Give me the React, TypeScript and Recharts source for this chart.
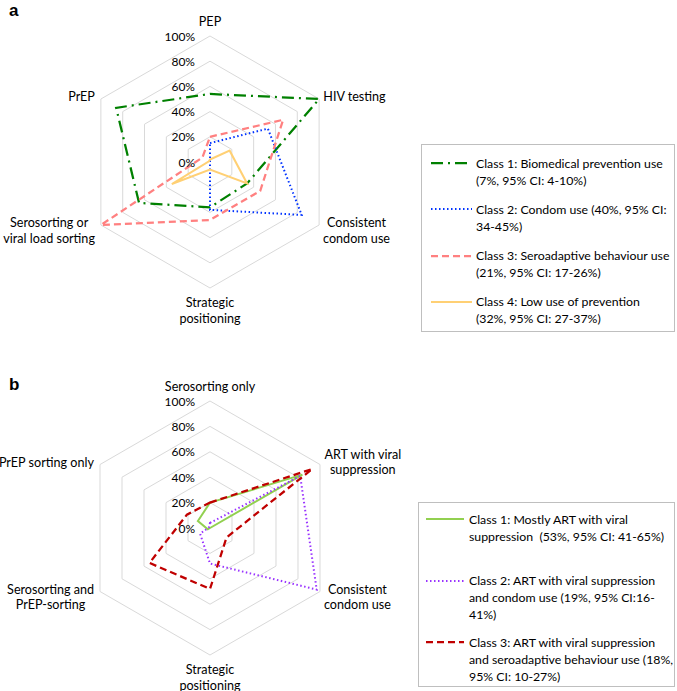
import React from 'react';
import {
  RadarChart,
  Radar,
  PolarGrid,
  PolarAngleAxis,
  PolarRadiusAxis,
  Legend,
} from 'recharts';

// panel a
const axesA = [
  'PEP',
  'HIV testing',
  'Consistent\ncondom use',
  'Strategic\npositioning',
  'Serosorting or\nviral load sorting',
  'PrEP',
];
const bioA = [54, 100, 34, 36, 65, 86];
const condomA = [15, 53, 84, 38, 0, 0];
const seroA = [20, 67, 46, 46, 100, 7];
const lowA = [2, 18, 34, 6, 35, 1];

// panel b
const axesB = [
  'Serosorting only',
  'ART with viral\nsuppression',
  'Consistent\ncondom use',
  'Strategic\npositioning',
  'Serosorting and\nPrEP-sorting',
  'PrEP sorting only',
];
const artB = [20, 84, 0, 0, 2, 11];
const artCondomB = [4, 82, 97, 28, 9, 1];
const artSeroB = [20, 93, 15, 48, 55, 21];

const legendA = [
  ['Class 1: Biomedical prevention use', '(7%, 95% CI: 4-10%)'],
  ['Class 2: Condom use (40%, 95% CI:', '34-45%)'],
  ['Class 3: Seroadaptive behaviour use', '(21%, 95% CI: 17-26%)'],
  ['Class 4: Low use of prevention', '(32%, 95% CI: 27-37%)'],
];
const legendB = [
  ['Class 1: Mostly ART with viral', 'suppression  (53%, 95% CI: 41-65%)'],
  ['Class 2: ART with viral suppression', 'and condom use (19%, 95% CI:16-', '41%)'],
  ['Class 3: ART with viral suppression', 'and seroadaptive behaviour use (18%,', '95% CI: 10-27%)'],
];

const FONT = 'Lato, "Open Sans", sans-serif';
const FS = 12.6; // axis category labels
const TICK_FS = 12; // percent labels
const LEG_FS = 12.3; // legend text

const dataA = axesA.map((axis, i) => ({
  axis,
  c1: bioA[i],
  c2: condomA[i],
  c3: seroA[i],
  c4: lowA[i],
}));
const dataB = axesB.map((axis, i) => ({
  axis,
  c1: artB[i],
  c2: artCondomB[i],
  c3: artSeroB[i],
}));

const seriesA = [
  { key: 'c1', color: '#008000', dash: '12 5 2 5', width: 2.25 },
  { key: 'c2', color: '#0033ff', dash: '1.5 2.5', width: 2 },
  { key: 'c3', color: '#ff8080', dash: '7 4', width: 2.25 },
  { key: 'c4', color: '#ffd074', dash: undefined, width: 2 },
];
const seriesB = [
  { key: 'c1', color: '#92d050', dash: undefined, width: 2 },
  { key: 'c2', color: '#9933ff', dash: '1.5 2.5', width: 2 },
  { key: 'c3', color: '#c00000', dash: '7 4', width: 2.25 },
];

let ctx: CanvasRenderingContext2D | null = null;
function textWidth(s: string) {
  if (!ctx) ctx = document.createElement('canvas').getContext('2d');
  if (!ctx) return s.length * 6;
  ctx.font = `${FS}px Lato`;
  return ctx.measureText(s).width;
}

function AngleTick(props: any) {
  const { x, y, payload } = props;
  const lines = String(payload.value).split('\n');
  const a = (payload.coordinate * Math.PI) / 180;
  const cos = Math.cos(a);
  const sin = Math.sin(a);
  const lh = 15.5;
  const w = Math.max(...lines.map(textWidth));
  let tx = x;
  let top = y;
  if (Math.abs(cos) < 0.1) {
    top = sin > 0 ? y - 7 - (lines.length - 1) * lh : y + 6;
  } else {
    tx = cos > 0 ? x - 3 + w / 2 : x + 1 - w / 2;
    top = y + 1 - ((lines.length - 1) * lh) / 2;
  }
  return (
    <text
      x={tx}
      y={top}
      textAnchor="middle"
      dominantBaseline="central"
      fontFamily={FONT}
      fontSize={FS}
      fill="#000"
    >
      {lines.map((l, i) => (
        <tspan key={i} x={tx} dy={i === 0 ? 0 : lh}>
          {l}
        </tspan>
      ))}
    </text>
  );
}

function RadiusTick(props: any) {
  const { x, y, payload } = props;
  return (
    <text
      x={x - 15}
      y={y}
      textAnchor="end"
      dominantBaseline="central"
      fontFamily={FONT}
      fontSize={TICK_FS}
      fill="#000"
    >
      {`${payload.value}%`}
    </text>
  );
}

function LegendBox({
  items,
  series,
  step,
  firstY,
  textX,
  sample,
}: {
  items: string[][];
  series: { color: string; dash?: string; width: number }[];
  step: number;
  firstY: number;
  textX: number;
  sample: [number, number];
}) {
  return (
    <div
      style={{
        position: 'relative',
        width: '100%',
        height: '100%',
        boxSizing: 'border-box',
        border: '1px solid #bfbfbf',
        fontFamily: FONT,
        fontSize: LEG_FS,
        color: '#000',
      }}
    >
      {items.map((lines, i) => {
        const cy = firstY + i * step;
        const s = series[i];
        return (
          <div key={i}>
            <svg
              style={{ position: 'absolute', left: 0, top: cy - 5 }}
              width={sample[1] + 2}
              height={10}
            >
              <line
                x1={sample[0]}
                x2={sample[1]}
                y1={5}
                y2={5}
                stroke={s.color}
                strokeWidth={s.width}
                strokeDasharray={s.dash}
              />
            </svg>
            <div
              style={{
                position: 'absolute',
                left: textX,
                top: cy - 8.5,
                lineHeight: '17px',
                whiteSpace: 'pre',
              }}
            >
              {lines.map((l, j) => (
                <div key={j}>{l}</div>
              ))}
            </div>
          </div>
        );
      })}
    </div>
  );
}

export default function App() {
  return (
    <div
      style={{
        position: 'absolute',
        left: 0,
        top: 0,
        width: 677,
        height: 691,
        background: '#fff',
        fontFamily: FONT,
      }}
    >
      <div
        style={{
          position: 'absolute',
          left: 9,
          top: 1,
          fontFamily: '"Liberation Sans", Arial, sans-serif',
          fontWeight: 'bold',
          fontSize: 17,
        }}
      >
        a
      </div>
      <div
        style={{
          position: 'absolute',
          left: 9,
          top: 375,
          fontFamily: '"Liberation Sans", Arial, sans-serif',
          fontWeight: 'bold',
          fontSize: 17,
        }}
      >
        b
      </div>

      <div style={{ position: 'absolute', left: 0, top: 0 }}>
        <RadarChart
          width={677}
          height={340}
          data={dataA}
          cx={210}
          cy={162}
          outerRadius={126}
          margin={{ top: 0, right: 0, bottom: 0, left: 0 }}
        >
          <PolarGrid gridType="polygon" radialLines={false} stroke="#d9d9d9" />
          <PolarAngleAxis dataKey="axis" tick={AngleTick} tickLine={false} axisLine={false} />
          <PolarRadiusAxis
            angle={90}
            domain={[0, 100]}
            tickCount={6}
            axisLine={false}
            tickLine={false}
            tick={RadiusTick}
          />
          {seriesA.map((s) => (
            <Radar
              key={s.key}
              dataKey={s.key}
              stroke={s.color}
              strokeWidth={s.width}
              strokeDasharray={s.dash}
              fill="none"
              fillOpacity={0}
              dot={false}
              isAnimationActive={false}
            />
          ))}
          <Legend
            layout="vertical"
            align="right"
            verticalAlign="top"
            wrapperStyle={{ left: 421, top: 144, width: 254, height: 188, right: 'auto' }}
            content={() => (
              <LegendBox
                items={legendA}
                series={seriesA}
                step={46.3}
                firstY={18}
                textX={54}
                sample={[9, 50]}
              />
            )}
          />
        </RadarChart>
      </div>

      <div style={{ position: 'absolute', left: 0, top: 340 }}>
        <RadarChart
          width={677}
          height={351}
          data={dataB}
          cx={210}
          cy={188}
          outerRadius={127}
          margin={{ top: 0, right: 0, bottom: 0, left: 0 }}
        >
          <PolarGrid gridType="polygon" radialLines={false} stroke="#d9d9d9" />
          <PolarAngleAxis dataKey="axis" tick={AngleTick} tickLine={false} axisLine={false} />
          <PolarRadiusAxis
            angle={90}
            domain={[0, 100]}
            tickCount={6}
            axisLine={false}
            tickLine={false}
            tick={RadiusTick}
          />
          {seriesB.map((s) => (
            <Radar
              key={s.key}
              dataKey={s.key}
              stroke={s.color}
              strokeWidth={s.width}
              strokeDasharray={s.dash}
              fill="none"
              fillOpacity={0}
              dot={false}
              isAnimationActive={false}
            />
          ))}
          <Legend
            layout="vertical"
            align="right"
            verticalAlign="top"
            wrapperStyle={{ left: 418, top: 162, width: 257, height: 185, right: 'auto' }}
            content={() => (
              <LegendBox
                items={legendB}
                series={seriesB}
                step={61.5}
                firstY={16}
                textX={50}
                sample={[7, 45]}
              />
            )}
          />
        </RadarChart>
      </div>
    </div>
  );
}
